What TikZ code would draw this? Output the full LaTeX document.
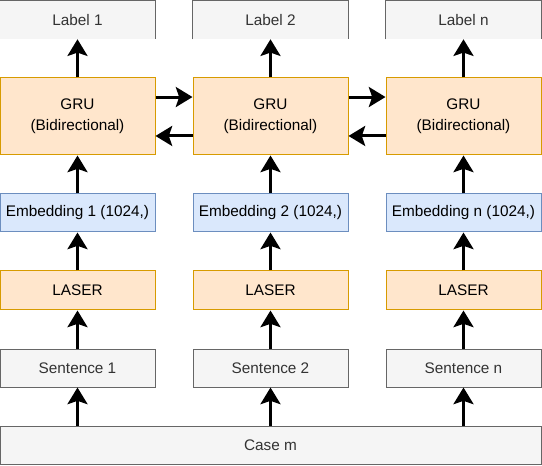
\documentclass[tikz,border=0pt]{standalone}
\usepackage{fontspec}
\setmainfont{Liberation Sans}
\usepackage{tikz}
\usetikzlibrary{arrows.meta,positioning}
\definecolor{gruorange}{HTML}{FFE6CC}
\definecolor{gruborder}{HTML}{D79B00}
\definecolor{embblue}{HTML}{DAE8FC}
\definecolor{embborder}{HTML}{6C8EBF}
\definecolor{boxgrey}{HTML}{F5F5F5}
\definecolor{greyborder}{HTML}{666666}
\definecolor{greytext}{HTML}{333333}
\tikzset{
  greybox/.style={draw=greyborder, fill=boxgrey, text=greytext, line width=0.75pt, minimum width=116.25pt, minimum height=28.5pt, inner sep=0pt},
  labelbox/.style={fill=boxgrey, text=greytext, minimum width=116.25pt, minimum height=28.5pt, inner sep=0pt},
  grubox/.style={draw=gruborder, fill=gruorange, line width=0.75pt, minimum width=116.25pt, minimum height=57.75pt, align=center, inner sep=0pt},
  embbox/.style={draw=embborder, fill=embblue, line width=0.75pt, minimum width=116.25pt, minimum height=28.5pt, inner sep=0pt},
  laserbox/.style={draw=gruborder, fill=gruorange, line width=0.75pt, minimum width=116.25pt, minimum height=29.25pt, inner sep=0pt},
  flow/.style={-{Stealth[length=12.5pt, width=15pt, inset=2.5pt]}, line width=2.25pt}
}
\begin{document}
\begin{tikzpicture}[x=0.75pt, y=-0.75pt, font=\fontsize{11.5pt}{15.75pt}\selectfont]
    \useasboundingbox (0,0) rectangle (542,466);
    % Label boxes
    \node[labelbox] (lab1) at (77.5, 20) {Label 1};
    \node[labelbox] (lab2) at (270.5, 20) {Label 2};
    \node[labelbox] (lab3) at (463.5, 20) {Label n};
    \draw[greyborder, line width=0.75pt] (lab1.south west) -- (lab1.north west) -- (lab1.north east) -- (lab1.south east);
    \draw[greyborder, line width=0.75pt] (lab2.south west) -- (lab2.north west) -- (lab2.north east) -- (lab2.south east);
    \draw[greyborder, line width=0.75pt] (lab3.south west) -- (lab3.north west) -- (lab3.north east) -- (lab3.south east);
    % GRU boxes
    \node[grubox] (gru1) at (77.5, 116.5) {GRU\\(Bidirectional)};
    \node[grubox] (gru2) at (270.5, 116.5) {GRU\\(Bidirectional)};
    \node[grubox] (gru3) at (463.5, 116.5) {GRU\\(Bidirectional)};
    % Embedding boxes
    \node[embbox] (emb1) at (77.5, 213) {Embedding 1 (1024,)};
    \node[embbox] (emb2) at (270.5, 213) {Embedding 2 (1024,)};
    \node[embbox] (emb3) at (463.5, 213) {Embedding n (1024,)};
    % LASER boxes
    \node[laserbox] (las1) at (77.5, 290.5) {LASER};
    \node[laserbox] (las2) at (270.5, 290.5) {LASER};
    \node[laserbox] (las3) at (463.5, 290.5) {LASER};
    % Sentence boxes
    \node[greybox] (sen1) at (77.5, 368) {Sentence 1};
    \node[greybox] (sen2) at (270.5, 368) {Sentence 2};
    \node[greybox] (sen3) at (463.5, 368) {Sentence n};
    % Case box
    \node[greybox, minimum width=405.75pt] (case) at (270.5, 445) {Case m};
    % Upward arrows
    \draw[flow] (case.north -| sen1) -- (sen1);
    \draw[flow] (case.north -| sen2) -- (sen2);
    \draw[flow] (case.north -| sen3) -- (sen3);
    \draw[flow] (sen1) -- (las1);
    \draw[flow] (sen2) -- (las2);
    \draw[flow] (sen3) -- (las3);
    \draw[flow] (las1) -- (emb1);
    \draw[flow] (las2) -- (emb2);
    \draw[flow] (las3) -- (emb3);
    \draw[flow] (emb1) -- (gru1);
    \draw[flow] (emb2) -- (gru2);
    \draw[flow] (emb3) -- (gru3);
    \draw[flow] (gru1) -- (lab1);
    \draw[flow] (gru2) -- (lab2);
    \draw[flow] (gru3) -- (lab3);
    % Between GRU boxes
    \draw[flow] ([yshift=14.6pt]gru1.east) -- ([yshift=14.6pt]gru2.west);
    \draw[flow] ([yshift=14.6pt]gru2.east) -- ([yshift=14.6pt]gru3.west);
    \draw[flow] ([yshift=-14.6pt]gru2.west) -- ([yshift=-14.6pt]gru1.east);
    \draw[flow] ([yshift=-14.6pt]gru3.west) -- ([yshift=-14.6pt]gru2.east);
  \end{tikzpicture}
\end{document}
